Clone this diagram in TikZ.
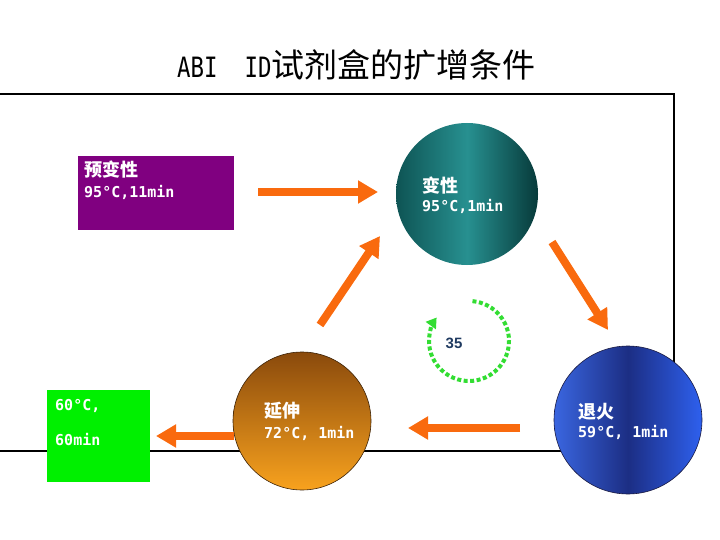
\documentclass[tikz,border=0pt]{standalone}
\usepackage{fontspec}
\setmainfont{DejaVu Sans Mono}
\newfontfamily\cjk{Noto Sans CJK SC}
\newfontfamily\numfont{Liberation Sans}
\usetikzlibrary{arrows.meta}
\definecolor{arr}{HTML}{F96A0E}
\definecolor{purp}{HTML}{800080}
\definecolor{lime}{HTML}{00F000}
\definecolor{dgreen}{HTML}{33DD33}
\definecolor{navy}{HTML}{1F3A60}
\definecolor{tealA}{HTML}{0E5454}
\definecolor{tealB}{HTML}{279090}
\definecolor{tealC}{HTML}{073A3A}
\definecolor{blueA}{HTML}{3A66E0}
\definecolor{blueB}{HTML}{1C2E84}
\definecolor{blueC}{HTML}{2E60EE}
\definecolor{blueE}{HTML}{1A1A40}
\definecolor{orA}{HTML}{8A4A0C}
\definecolor{orB}{HTML}{F8A21E}
\definecolor{orE}{HTML}{3A2005}
\tikzset{
  flow/.style={draw=arr, line width=8pt, -{Triangle[width=22pt,length=20pt]}},
  lbl/.style={anchor=west, inner sep=0pt, text=white, font=\bfseries\fontsize{15}{15}\selectfont},
  clbl/.style={anchor=west, inner sep=0pt, text=white, font=\cjk\bfseries\fontsize{18}{18}\selectfont},
  ball/.style={circle, inner sep=0pt, minimum size=#1},
}
\begin{document}
\begin{tikzpicture}[x=1pt,y=-1pt]
\useasboundingbox (0,0) rectangle (720,540);
% title
\node[anchor=base west, inner sep=0pt] (title) at (177,78)
  {\scalebox{0.8}[1]{\fontsize{28}{28}\selectfont ABI\ \ ID}{\cjk\fontsize{33}{33}\selectfont 试剂盒的扩增条件}};
% frame
\draw[line width=1.5pt] (0,94) -- (674,94) -- (674,451) -- (0,451);
% purple box
\node[fill=purp, minimum width=156pt, minimum height=74pt, inner sep=0pt] (pre) at (155.5,193) {};
\node[clbl] (pret) at (84,170) {预变性};
\node[lbl] (prev) at (84,192) {95°C,11min};
% green box
\node[fill=lime, minimum width=103pt, minimum height=92pt, inner sep=0pt] (fin) at (98.5,436) {};
\node[lbl] (fint) at (55,406) {60°C,};
\node[lbl] (finv) at (55,440) {60min};
% circles
\node[ball=142pt, left color=tealA, right color=tealC, middle color=tealB] (den) at (467,194) {};
\node[clbl] (dent) at (422,186) {变性};
\node[lbl] (denv) at (422,206) {95°C,1min};
\node[ball=148pt, draw=blueE, line width=0.6pt, left color=blueA, right color=blueC, middle color=blueB] (ann) at (628,420) {};
\node[clbl] (annt) at (578,412) {退火};
\node[lbl] (annv) at (578,432) {59°C, 1min};
\node[ball=138pt, draw=orE, line width=0.6pt, top color=orA, bottom color=orB] (ext) at (302,421) {};
\node[clbl] (extt) at (264,411) {延伸};
\node[lbl] (extv) at (264,433) {72°C, 1min};
% arrow ends
\coordinate (a1s) at (258,192); \coordinate (a1e) at (378,192);
\coordinate (a2s) at (552,242); \coordinate (a2e) at (608,330);
\coordinate (a3s) at (320,325); \coordinate (a3e) at (380,236);
\coordinate (a4s) at (520,428); \coordinate (a4e) at (408,428);
\coordinate (a5s) at (234,436); \coordinate (a5e) at (156,436);
\draw[flow] (a1s) -- (a1e);
\draw[flow] (a2s) -- (a2e);
\draw[flow] (a3s) -- (a3e);
\draw[flow] (a4s) -- (a4e);
\draw[flow] (a5s) -- (a5e);
% cycle
\node[inner sep=0pt, text=navy, font=\numfont\bfseries\fontsize{15}{15}\selectfont] (cyc) at (454,343) {35};
\coordinate (cc) at (469,341);
\draw[draw=dgreen, line width=4pt, dash pattern=on 4pt off 2.5pt, -{Triangle[width=12pt,length=10pt]}]
  ([shift={(-85:40)}]cc) arc[start angle=-85, end angle=216, radius=40];
\end{tikzpicture}
\end{document}
